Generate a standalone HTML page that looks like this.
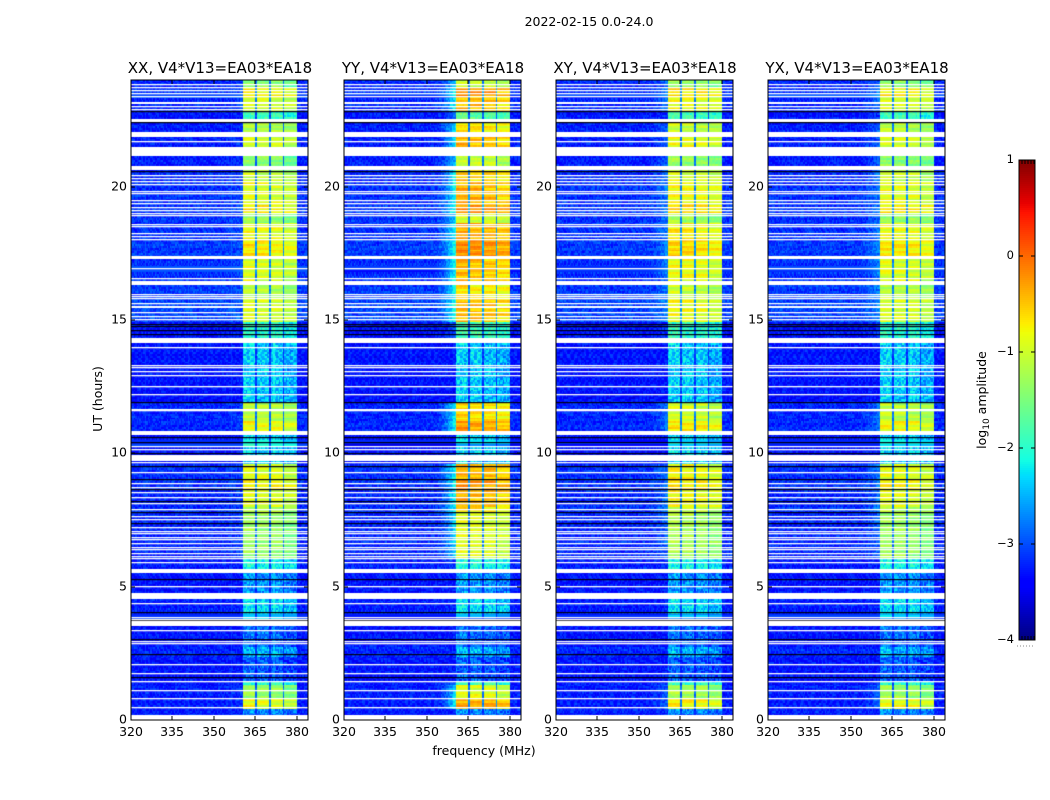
<!DOCTYPE html>
<html lang="en">
<head>
<meta charset="utf-8">
<title>2022-02-15 spectrogram</title>
<style>
  html, body { margin: 0; padding: 0; background: #fff; }
  #figure { position: relative; width: 1050px; height: 800px; overflow: hidden; background: #fff; }
  #figure canvas { position: absolute; display: block; }
  #overlay { position: absolute; left: 0; top: 0; }
  text { font-family: "DejaVu Sans", "Liberation Sans", sans-serif; fill: #000; }
</style>
</head>
<body>
<div id="figure">
  <svg id="overlay" width="1050" height="800" viewBox="0 0 1050 800">
    <text x="589" y="26" text-anchor="middle" font-size="12.5">2022-02-15 0.0-24.0</text>
    <text x="102" y="399" text-anchor="middle" font-size="12.5" transform="rotate(-90 102 399)">UT (hours)</text>
    <text x="484" y="755" text-anchor="middle" font-size="12.5">frequency (MHz)</text>
    <text x="986" y="400" text-anchor="middle" font-size="12.5" transform="rotate(-90 986 400)">log<tspan font-size="9" dy="3">10</tspan><tspan dy="-3"> amplitude</tspan></text>
  </svg>
</div>
<script>
/* ---- chart data ---- */
const panelTitles = ['XX, V4*V13=EA03*EA18', 'YY, V4*V13=EA03*EA18', 'XY, V4*V13=EA03*EA18', 'YX, V4*V13=EA03*EA18'];
const freqTicks = [320, 335, 350, 365, 380];
const timeTicks = [0, 5, 10, 15, 20];
const colorTicks = [1, 0, -1, -2, -3, -4];

/* time blocks: start hour, in-band log10 amplitude (XX), off-band log10 amplitude */
const blockStart = [0, 0.19, 0.45, 0.85, 1.3, 1.45, 2.4, 2.7, 3.0, 3.6, 4.0, 4.6, 5.6, 6.1, 7.8, 8.0, 8.7, 9.0, 9.6, 10.7, 11.2, 11.9, 12.3, 14.3, 14.9, 15.8, 16.3, 17.3, 18.0, 18.6, 19.0, 19.35, 20.2, 20.6, 20.8, 21.5, 22.05, 22.4, 22.85, 23.4, 23.75];
const blockBand =  [-2.9, -2.75, -0.95, -1.4, -2.05, -3.0, -2.55, -2.95, -2.9, -2.7, -2.35, -2.7, -2.2, -1.4, -1.25, -1.0, -0.85, -1.0, -2.4, -0.9, -1.2, -2.45, -2.45, -2.05, -1.05, -1.25, -1.05, -0.8, -0.95, -1.45, -0.8, -1.0, -1.15, -1.25, -1.5, -1.05, -1.25, -1.95, -1.05, -0.85, -1.5];
const blockOff =   [-3.25, -3.25, -3.25, -3.25, -3.3, -3.3, -3.2, -3.3, -3.3, -3.3, -3.25, -3.3, -3.25, -3.2, -3.15, -3.2, -3.15, -3.15, -3.3, -3.2, -3.2, -3.35, -3.3, -3.3, -3.05, -3.1, -3.15, -3.1, -3.15, -3.15, -3.1, -3.15, -3.2, -3.25, -3.25, -3.25, -3.25, -3.3, -3.2, -3.15, -3.2];

/* sub-bands in MHz and their relative gain */
const subbandStart = [360.5, 365.5, 370.5, 375.6];
const subbandEnd = [365.0, 370.0, 375.0, 380.0];
const subbandGain = [0.1, 0.06, 0.02, -0.1];

/* polarisation scaling */
const panelBandOffset = [0, 0.5, 0.12, 0.02];
const panelShoulder = [0.1, 0.8, 0.3, 0.3];

/* flagged (white) time ranges in hours */
const thinFlags = [23.85, 23.74, 23.62, 23.51, 23.40, 23.02, 22.91, 21.71, 20.43, 20.32, 20.21, 20.09, 19.83, 19.76, 19.49, 19.38, 19.23, 19.12, 19.01, 18.94, 18.60, 18.52, 18.25, 18.14, 18.03, 16.94, 16.56, 15.96, 15.89, 15.81, 15.62, 15.29, 15.14, 15.02, 13.97, 13.33, 13.22, 13.07, 12.92, 12.54, 12.21, 11.68, 11.61, 10.29, 10.18, 9.69, 9.31, 8.90, 8.75, 8.56, 8.38, 8.15, 7.92, 7.66, 7.55, 7.25, 7.10, 7.02, 6.87, 6.80, 6.65, 6.50, 6.42, 6.27, 6.16, 6.08, 5.93, 5.03, 4.39, 3.87, 3.79, 3.38, 2.97, 2.89, 2.10, 1.77, 1.46, 1.13, 0.83, 0.49];
const wideFlagStart = [23.10, 22.43, 21.86, 21.16, 20.62, 17.28, 16.30, 15.44, 14.12, 10.67, 9.73, 5.52, 4.54, 3.53, 0];
const wideFlagEnd = [23.17, 22.54, 22.06, 21.49, 20.78, 17.39, 16.45, 15.51, 14.31, 10.85, 9.92, 5.67, 4.77, 3.72, 0.19];

/* near-zero amplitude (dark) rows in hours */
const darkRows = [22.82, 22.41, 20.59, 14.84, 14.76, 14.61, 14.46, 11.94, 10.63, 10.44, 10.03, 9.54, 9.05, 8.68, 8.23, 7.81, 7.40, 5.30, 4.06, 3.76, 3.04, 2.48, 1.62];

/* fixed cell-to-cell scatter of the measurements, in dex */
const speckle = [0.31, -0.22, 0.08, -0.35, 0.19, -0.05, 0.42, -0.28, 0.12, -0.15, 0.27, -0.38, 0.03, 0.22, -0.31, 0.36, -0.09, -0.19, 0.15, -0.42, 0.25, 0.05, -0.26, 0.33, -0.12, 0.17, -0.33, 0.09, 0.39, -0.2, -0.02];
/* fixed row-to-row gain drift seen inside the band, in dex */
const rowDrift = [-0.05, 0.14, 0.2, -0.1, 0.05, -0.18, 0.1, 0.22, -0.02, -0.14, 0.16, 0.02, -0.2, 0.08, 0.18, -0.08, 0.0, 0.12, -0.16];

/* ---- layout ---- */
const panelLeft = [131, 344, 556, 768];
const panelWidth = 177;
const plotTop = 80;
const plotBottom = 720;
const freqMin = 320, freqMax = 384;
const timeMin = 0, timeMax = 24;
const colorMin = -4, colorMax = 1;
const channelMHz = 0.5, rowHours = 0.07;
const cbarLeft = 1019, cbarRight = 1035, cbarTop = 160, cbarBottom = 640;
const SVGNS = 'http://www.w3.org/2000/svg';
const figure = document.getElementById('figure');
const overlay = document.getElementById('overlay');

function xScale(panelIndex, f) { return panelLeft[panelIndex] + (f - freqMin) / (freqMax - freqMin) * panelWidth; }
function yScale(h) { return plotBottom - (h - timeMin) / (timeMax - timeMin) * (plotBottom - plotTop); }
function colorScale(v) { return cbarBottom - (v - colorMin) / (colorMax - colorMin) * (cbarBottom - cbarTop); }

function ramp(t, pts) {
  for (let i = 1; i < pts.length; i++) {
    if (t <= pts[i][0]) {
      const a = pts[i - 1], b = pts[i];
      return a[1] + (b[1] - a[1]) * (t - a[0]) / (b[0] - a[0]);
    }
  }
  return pts[pts.length - 1][1];
}
function jet(v) {
  const t = Math.max(0, Math.min(1, (v - colorMin) / (colorMax - colorMin)));
  const r = ramp(t, [[0, 0], [0.35, 0], [0.66, 1], [0.89, 1], [1, 0.5]]);
  const g = ramp(t, [[0, 0], [0.125, 0], [0.375, 1], [0.64, 1], [0.91, 0], [1, 0]]);
  const b = ramp(t, [[0, 0.5], [0.11, 1], [0.34, 1], [0.65, 0], [1, 0]]);
  return 'rgb(' + Math.round(r * 255) + ',' + Math.round(g * 255) + ',' + Math.round(b * 255) + ')';
}
function clamp01(x) { return Math.max(0, Math.min(1, x)); }
function blockIndex(h) {
  let k = 0;
  for (let i = 0; i < blockStart.length; i++) { if (h >= blockStart[i]) k = i; }
  return k;
}
function subbandIndex(f) {
  for (let i = 0; i < subbandStart.length; i++) { if (f >= subbandStart[i] && f < subbandEnd[i]) return i; }
  return -1;
}
function cellLevel(p, f, h, r, c) {
  const k = blockIndex(h);
  const off = blockOff[k];
  const strong = clamp01((blockBand[k] + 2.4) / 1.2);
  const band = blockBand[k] + panelBandOffset[p] * strong;
  const s = speckle[(r * 7 + c * 13 + p * 5 + Math.floor(r / 3) * c) % speckle.length];
  let v;
  if (f >= subbandStart[0] && f < subbandEnd[subbandEnd.length - 1]) {
    const sb = subbandIndex(f);
    if (sb >= 0) {
      const drift = rowDrift[(r + sb * 5 + p * 3) % rowDrift.length];
      v = band + subbandGain[sb] + drift * (0.3 + 0.7 * strong) + s * (0.15 + 0.7 * (1 - strong));
    } else {
      v = off + 0.2 * (band - off) + s * 0.35;
    }
  } else {
    v = off + s * 0.55 + rowDrift[(r + p) % rowDrift.length] * 0.3;
    if (f > 352 && f < subbandStart[0]) {
      v += panelShoulder[p] * strong * Math.pow((f - 352) / (subbandStart[0] - 352), 2) * 1.4;
    }
  }
  return v;
}

/* ---- heatmaps ---- */
panelTitles.forEach(function (title, p) {
  const cv = document.createElement('canvas');
  
  
  const L = panelLeft[p], T = Math.floor(plotTop);
  cv.width = panelWidth;
  cv.height = plotBottom - T;
  cv.style.left = L + 'px';
  cv.style.top = T + 'px';
  figure.insertBefore(cv, overlay);
  const ctx = cv.getContext('2d');
  ctx.fillStyle = '#fff';
  ctx.fillRect(0, 0, cv.width, cv.height);
  const nRows = Math.round((timeMax - timeMin) / rowHours);
  const nChans = Math.round((freqMax - freqMin) / channelMHz);
  for (let r = 0; r < nRows; r++) {
    const h0 = timeMin + r * rowHours;
    const y1 = Math.round(yScale(h0)) - T;
    const y0 = Math.round(yScale(h0 + rowHours)) - T;
    for (let c = 0; c < nChans; c++) {
      const f0 = freqMin + c * channelMHz;
      const x0 = Math.round(xScale(p, f0)) - L;
      const x1 = Math.round(xScale(p, f0 + channelMHz)) - L;
      ctx.fillStyle = jet(cellLevel(p, f0 + channelMHz / 2, h0 + rowHours / 2, r, c));
      ctx.fillRect(x0, y0, x1 - x0, y1 - y0);
    }
  }
  ctx.fillStyle = '#000010';
  darkRows.forEach(function (h) {
    ctx.fillRect(0, Math.round(yScale(h)) - T, panelWidth, 1.2);
  });
  ctx.fillStyle = '#fff';
  thinFlags.forEach(function (h) {
    ctx.fillRect(0, Math.round(yScale(h)) - T, panelWidth, 1.3);
  });
  wideFlagStart.forEach(function (h, i) {
    const top = Math.round(yScale(wideFlagEnd[i]));
    ctx.fillRect(0, top - T, panelWidth, Math.round(yScale(h)) - top);
  });
});

/* ---- axes ---- */
function addLine(x1, y1, x2, y2, name, color, width) {
  const el = document.createElementNS(SVGNS, 'line');
  el.setAttribute('x1', x1);
  el.setAttribute('y1', y1);
  el.setAttribute('x2', x2);
  el.setAttribute('y2', y2);
  el.setAttribute('stroke', color || '#000');
  el.setAttribute('stroke-width', width || 1);
  
  
  overlay.appendChild(el);
  return el;
}
function addText(x, y, str, anchor, size, name) {
  const el = document.createElementNS(SVGNS, 'text');
  el.setAttribute('x', x);
  el.setAttribute('y', y);
  el.setAttribute('text-anchor', anchor);
  el.setAttribute('font-size', size);
  
  
  el.textContent = str;
  overlay.appendChild(el);
  return el;
}
panelTitles.forEach(function (title, p) {
  const L = panelLeft[p], R = L + panelWidth;
  addText(L + panelWidth / 2 + 0.5, 73, title, 'middle', 15, 'panel-title');
  const frame = document.createElementNS(SVGNS, 'rect');
  frame.setAttribute('x', L);
  frame.setAttribute('y', plotTop);
  frame.setAttribute('width', panelWidth);
  frame.setAttribute('height', plotBottom - plotTop);
  frame.setAttribute('fill', 'none');
  frame.setAttribute('stroke', '#000');
  frame.setAttribute('stroke-width', 1);
  
  
  overlay.appendChild(frame);
  freqTicks.forEach(function (f) {
    const x = Math.round(xScale(p, f));
    addLine(x, plotBottom, x, plotBottom - 4, 'x-tick');
    addLine(x, plotTop, x, plotTop + 4, 'x-tick');
    addText(x, 736, String(f), 'middle', 12.5, 'x-tick-label');
  });
  timeTicks.forEach(function (h) {
    const y = Math.round(yScale(h));
    addLine(L, y, L + 4, y, 'y-tick');
    addLine(R, y, R - 4, y, 'y-tick');
    addText(L - 4, y + 3.5, String(h), 'end', 12.5, 'y-tick-label');
  });
});

/* ---- colour bar ---- */
for (let py = cbarTop; py < cbarBottom; py += 2) {
  const seg = document.createElementNS(SVGNS, 'rect');
  seg.setAttribute('x', cbarLeft);
  seg.setAttribute('y', py);
  seg.setAttribute('width', cbarRight - cbarLeft);
  seg.setAttribute('height', 2.2);
  seg.setAttribute('fill', jet(colorMin + (cbarBottom - py - 1) / (cbarBottom - cbarTop) * (colorMax - colorMin)));
  
  
  overlay.appendChild(seg);
}
const cbFrame = document.createElementNS(SVGNS, 'rect');
cbFrame.setAttribute('x', cbarLeft);
cbFrame.setAttribute('y', cbarTop);
cbFrame.setAttribute('width', cbarRight - cbarLeft);
cbFrame.setAttribute('height', cbarBottom - cbarTop);
cbFrame.setAttribute('fill', 'none');
cbFrame.setAttribute('stroke', '#000');
cbFrame.setAttribute('stroke-width', 1);


overlay.appendChild(cbFrame);
colorTicks.forEach(function (v) {
  const y = Math.round(colorScale(v));
  addLine(cbarLeft, y, cbarLeft + 4, y, 'colorbar-tick');
  addLine(cbarRight, y, cbarRight - 4, y, 'colorbar-tick');
  addText(cbarLeft - 5, y + 3, v < 0 ? '\u2212' + Math.abs(v) : String(v), 'end', 11.5, 'colorbar-tick-label');
});
for (let x = cbarLeft + 3; x < cbarRight; x += 3) {
  addLine(x, cbarTop, x, cbarTop + 4, 'colorbar-minor-tick');
  addLine(x, cbarBottom, x, cbarBottom - 4, 'colorbar-minor-tick');
}
const dots = addLine(1017, 646, 1035, 646, 'colorbar-offset-dots', '#888', 1);
dots.setAttribute('stroke-dasharray', '1 2');
</script>
</body>
</html>
